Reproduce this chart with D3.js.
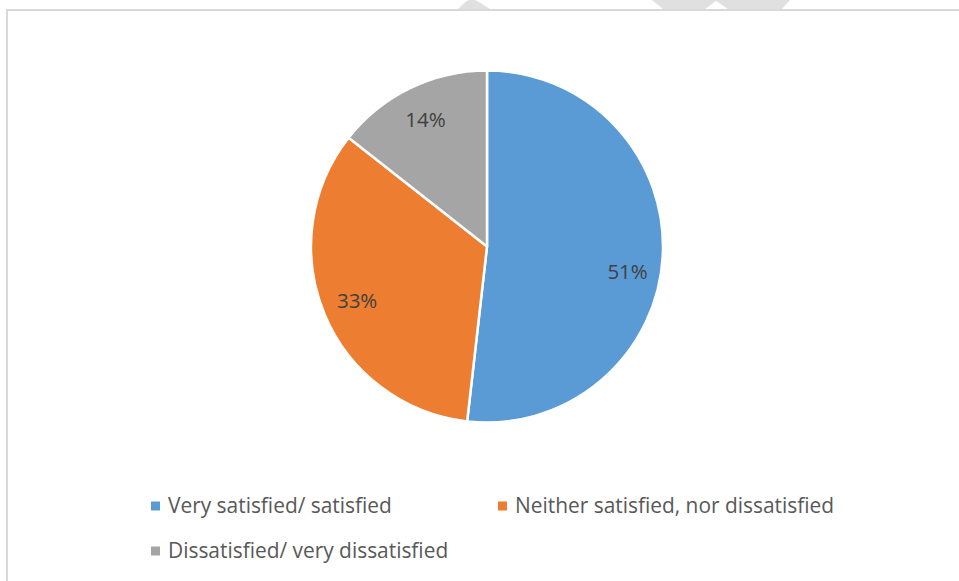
<!DOCTYPE html>
<html>
<head>
<meta charset="utf-8">
<script src="https://cdn.jsdelivr.net/npm/d3@7"></script>
<style>
  html, body { margin: 0; padding: 0; background: #fff; }
  svg { display: block; }
</style>
</head>
<body>
<svg id="chart" width="959" height="581"></svg>
<script>
// ---- data ----
const categories = ["Very satisfied/ satisfied", "Neither satisfied, nor dissatisfied", "Dissatisfied/ very dissatisfied"];
const values = [51.8, 33.8, 14.4];
const valueLabels = ["51%", "33%", "14%"];
const colors = ["#5B9BD5", "#ED7D31", "#A5A5A5"];

const svg = d3.select("#chart");
const W = 959, H = 581;

// watermark fragments (above chart frame)
svg.append("path")
  .attr("d", "M458,9 L466,1.5 Q472,-2 478,1.5 L490,9 Z")
  .attr("fill", "#e0e0e0");
svg.append("path")
  .attr("d", "M652,0 L663,9 L705,9 L716,1 L728,9 L782,9 L790,0 Z")
  .attr("fill", "#e0e0e0");

// chart frame
svg.append("rect")
  .attr("x", 7).attr("y", 10)
  .attr("width", W + 20).attr("height", H + 20)
  .attr("fill", "#fff")
  .attr("stroke", "#d9d9d9")
  .attr("stroke-width", 2);

const cx = 487, cy = 246.5, R = 176;

const pie = d3.pie().sort(null).value(d => d.value).startAngle(0).endAngle(2 * Math.PI);
const data = categories.map((c, i) => ({ cat: c, value: values[i], label: valueLabels[i], color: colors[i] }));
const arcs = pie(data);

const arc = d3.arc().innerRadius(0).outerRadius(R);
const labelArc = d3.arc().innerRadius(R * 0.8).outerRadius(R * 0.8);
// best-fit style vertical nudge for data labels (layout only)
const labelNudgeY = [17, 0, 0];

const g = svg.append("g").attr("transform", `translate(${cx},${cy})`);

g.selectAll("path.slice")
  .data(arcs)
  .join("path")
  .attr("class", "slice")
  .attr("d", arc)
  .attr("fill", d => d.data.color)
  .attr("stroke", "#ffffff")
  .attr("stroke-width", 2.5)
  .attr("stroke-linejoin", "round");

g.selectAll("text.lbl")
  .data(arcs)
  .join("text")
  .attr("class", "lbl")
  .attr("x", d => labelArc.centroid(d)[0])
  .attr("y", (d, i) => labelArc.centroid(d)[1] + labelNudgeY[i])
  .attr("text-anchor", "middle")
  .attr("dy", "0.35em")
  .attr("font-family", "'Open Sans', sans-serif")
  .attr("font-size", 20.5)
  .attr("fill", "#404040")
  .text(d => d.data.label);

// legend
const legendPos = [
  { x: 151, y: 506 },
  { x: 498, y: 506 },
  { x: 151, y: 551 }
];
const lg = svg.append("g");
const items = lg.selectAll("g.item")
  .data(data)
  .join("g")
  .attr("class", "item")
  .attr("transform", (d, i) => `translate(${legendPos[i].x},${legendPos[i].y})`);
items.append("rect")
  .attr("x", 0).attr("y", -4.5)
  .attr("width", 9).attr("height", 9)
  .attr("fill", d => d.color);
items.append("text")
  .attr("x", 17)
  .attr("y", 7)
  .attr("font-family", "'Open Sans', sans-serif")
  .attr("font-size", 20.9)
  .attr("fill", "#595959")
  .text(d => d.cat);
</script>
</body>
</html>
